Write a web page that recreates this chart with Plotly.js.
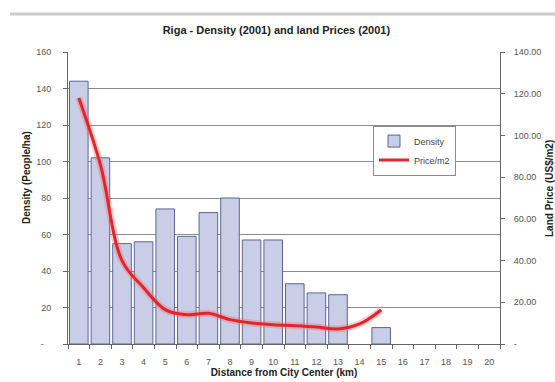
<!DOCTYPE html>
<html>
<head>
<meta charset="utf-8">
<script src="https://cdn.plot.ly/plotly-3.0.1.min.js"></script>
<style>
  html, body { margin: 0; padding: 0; background: #ffffff; }
  #chart { width: 555px; height: 382px; }
</style>
</head>
<body>
<div id="chart"></div>
<script>
// Distance bands from the city centre (km)
const distanceKm = [1, 2, 3, 4, 5, 6, 7, 8, 9, 10, 11, 12, 13, 14, 15, 16, 17, 18, 19, 20];

// Population density, people per hectare (2001)
const density = [144, 102, 55, 56, 74, 59, 72, 80, 57, 57, 33, 28, 27, null, 9, null, null, null, null, null];

// Land price, US$ per m2 (2001)
const pricePerM2 = [118, 86, 40, 27, 16.5, 14, 14.7, 11.7, 10.1, 9.2, 8.8, 8.2, 7.2, 9.6, 16.3, null, null, null, null, null];

// Tick labels (accounting style: zero shown as a dash)
const densityTickVals = [0, 20, 40, 60, 80, 100, 120, 140, 160];
const densityTickText = ['-   ', '20', '40', '60', '80', '100', '120', '140', '160'];
const priceTickVals = [0, 20, 40, 60, 80, 100, 120, 140];
const priceTickText = ['-', '20.00', '40.00', '60.00', '80.00', '100.00', '120.00', '140.00'];

const tickFont = { family: 'Liberation Sans, Arial, sans-serif', size: 9, color: '#555555' };
const titleFont = { family: 'Liberation Sans, Arial, sans-serif', size: 10, color: '#222222', weight: 'bold' };

const traces = [
  {
    type: 'bar',
    name: 'Density',
    x: distanceKm,
    y: density,
    marker: { color: '#c9cde6', line: { color: '#5a6794', width: 1 } },
    yaxis: 'y',
    hoverinfo: 'x+y'
  },
  {
    // soft halo under the price line
    type: 'scatter',
    mode: 'lines',
    x: distanceKm,
    y: pricePerM2,
    yaxis: 'y2',
    line: { color: 'rgba(238,110,110,0.35)', width: 7, shape: 'spline', smoothing: 1 },
    showlegend: false,
    hoverinfo: 'skip'
  },
  {
    type: 'scatter',
    mode: 'lines',
    name: 'Price/m2',
    x: distanceKm,
    y: pricePerM2,
    yaxis: 'y2',
    line: { color: '#e3242b', width: 3, shape: 'spline', smoothing: 1 }
  }
];

const layout = {
  width: 555,
  height: 382,
  margin: { l: 68, r: 55, t: 52, b: 38, pad: 0 },
  paper_bgcolor: '#ffffff',
  plot_bgcolor: '#ffffff',
  font: { family: 'Liberation Sans, Arial, sans-serif', color: '#333333' },
  bargap: 0.14,
  showlegend: true,
  title: {
    text: 'Riga - Density (2001) and land Prices (2001)',
    font: { family: 'Liberation Sans, Arial, sans-serif', size: 11, color: '#222222', weight: 'bold' },
    x: 0.498, xref: 'container', xanchor: 'center',
    y: 1 - 30 / 382, yref: 'container', yanchor: 'middle'
  },
  xaxis: {
    type: 'linear',
    range: [0.5, 20.5],
    tickmode: 'array',
    tickvals: distanceKm,
    ticktext: distanceKm.map(String),
    ticks: '',
    ticklabelstandoff: 9,
    minor: { ticks: 'outside', tick0: 0.5, dtick: 1, ticklen: 4, tickcolor: '#666666', showgrid: false },
    showline: true,
    linecolor: '#666666',
    linewidth: 1,
    showgrid: false,
    zeroline: false,
    tickfont: tickFont,
    tickangle: 0,
    title: { text: 'Distance from City Center (km)', font: titleFont, standoff: 1 },
    fixedrange: true
  },
  yaxis: {
    range: [0, 160],
    tickvals: densityTickVals,
    ticktext: densityTickText,
    ticks: 'outside',
    ticklen: 4,
    tickcolor: '#666666',
    ticklabelstandoff: 10,
    showline: true,
    linecolor: '#666666',
    linewidth: 1,
    showgrid: true,
    gridcolor: '#8c8c8c',
    gridwidth: 1,
    zeroline: false,
    tickfont: tickFont,
    fixedrange: true
  },
  yaxis2: {
    overlaying: 'y',
    side: 'right',
    range: [0, 140],
    tickvals: priceTickVals,
    ticktext: priceTickText,
    ticks: 'outside',
    ticklen: 4,
    tickcolor: '#666666',
    ticklabelstandoff: 7,
    showline: true,
    linecolor: '#666666',
    linewidth: 1,
    showgrid: false,
    zeroline: false,
    tickfont: tickFont,
    fixedrange: true
  },
  legend: {
    x: 0.706, y: 0.748, xanchor: 'left', yanchor: 'top',
    bgcolor: '#ffffff',
    bordercolor: '#8c8c8c',
    borderwidth: 1,
    itemwidth: 30,
    font: { family: 'Liberation Sans, Arial, sans-serif', size: 9, color: '#444444' },
    traceorder: 'normal'
  },
  annotations: [
    {
      text: 'Density (People/ha)',
      xref: 'paper', yref: 'paper',
      x: (26 - 68) / 432, y: (344 - 178) / 292,
      xanchor: 'center', yanchor: 'middle',
      textangle: -90, showarrow: false,
      font: titleFont
    },
    {
      text: 'Land Price (US$/m2)',
      xref: 'paper', yref: 'paper',
      x: (549 - 68) / 432, y: (344 - 189) / 292,
      xanchor: 'center', yanchor: 'middle',
      textangle: -90, showarrow: false,
      font: titleFont
    }
  ],
  shapes: [
    {
      type: 'line',
      xref: 'paper', yref: 'paper',
      x0: (10 - 68) / 432, x1: (556 - 68) / 432,
      y0: (344 - 14) / 292, y1: (344 - 14) / 292,
      line: { color: '#cccccc', width: 3 }
    }
  ]
};

Plotly.newPlot('chart', traces, layout, { displayModeBar: false, staticPlot: true });
</script>
</body>
</html>
